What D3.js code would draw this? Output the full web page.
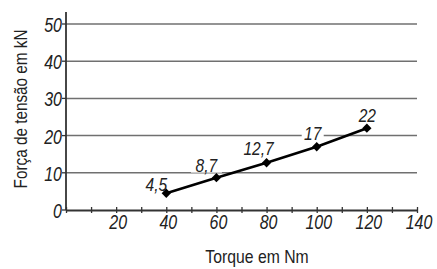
<!DOCTYPE html>
<html>
<head>
<meta charset="utf-8">
<script src="https://cdn.jsdelivr.net/npm/d3@7"></script>
<style>
  body { margin: 0; background: #fff; }
  text { font-family: "Liberation Sans", Arial, sans-serif; fill: #222; }
</style>
</head>
<body>
<div class="chart"></div>
<script>
// data
var torque = [40, 60, 80, 100, 120];
var forca = [4.5, 8.7, 12.7, 17, 22];
var labels = ["4,5", "8,7", "12,7", "17", "22"];
var xTicks = [20, 40, 60, 80, 100, 120, 140];
var yTicks = [0, 10, 20, 30, 40, 50];

var W = 437, H = 269;
var narrow = 0.82; // the original font is a condensed sans

var svg = d3.select(".chart").append("svg")
    .attr("width", W)
    .attr("height", H);

// set the ranges
var x = d3.scaleLinear().domain([0, 140]).range([66, 417]);
var y = d3.scaleLinear().domain([0, 50]).range([210, 24]);

// condensed text helper
function ntext(sel, tx, ty) {
    return sel.attr("transform", function (d, i) {
        return "translate(" + tx(d, i) + "," + ty(d, i) + ") scale(" + narrow + ",1)";
    });
}

// grid lines
svg.append("g").selectAll("line")
    .data(yTicks.filter(function (d) { return d > 0; }))
    .enter().append("line")
    .attr("x1", x(0)).attr("x2", x(140))
    .attr("y1", function (d) { return y(d); })
    .attr("y2", function (d) { return y(d); })
    .attr("stroke", "#707070").attr("stroke-width", 1.5);

// x axis with crossing ticks
var xAxis = svg.append("g")
    .attr("transform", "translate(0," + y(0) + ")")
    .call(d3.axisBottom(x).tickValues(d3.range(0, 141, 10)).tickSize(0).tickFormat(""));
xAxis.select(".domain").attr("stroke", "#333").attr("stroke-width", 1.8);
xAxis.selectAll(".tick").append("line")
    .attr("y1", -3).attr("y2", 3)
    .attr("stroke", "#333").attr("stroke-width", 1.3);
xAxis.selectAll(".tick text").remove();

ntext(svg.append("g").selectAll("text")
    .data(xTicks)
    .enter().append("text"),
    function (d) { return x(d) + 2; }, function () { return y(0) + 19; })
    .attr("text-anchor", "middle")
    .attr("font-size", 19.5)
    .attr("font-style", "italic")
    .text(function (d) { return d; });

// y axis
svg.append("line")
    .attr("x1", x(0)).attr("x2", x(0))
    .attr("y1", y(0)).attr("y2", 12)
    .attr("stroke", "#333").attr("stroke-width", 1.8);
svg.append("g").selectAll("line")
    .data(yTicks)
    .enter().append("line")
    .attr("x1", x(0) - 4).attr("x2", x(0))
    .attr("y1", function (d) { return y(d); })
    .attr("y2", function (d) { return y(d); })
    .attr("stroke", "#333").attr("stroke-width", 1.3);
ntext(svg.append("g").selectAll("text")
    .data(yTicks)
    .enter().append("text"),
    function () { return x(0) - 4; }, function (d) { return y(d) + 8; })
    .attr("text-anchor", "end")
    .attr("font-size", 19.5)
    .attr("font-style", "italic")
    .text(function (d) { return d; });

// value labels, drawn before the line; the white patch hides the grid behind them
var offs = [[-10, -2], [-10, -6], [-8, -8], [-4, -7], [0.5, -6]];
var lab = svg.append("g").selectAll("g")
    .data(forca)
    .enter().append("g")
    .attr("transform", function (d, i) {
        return "translate(" + (x(torque[i]) + offs[i][0]) + "," + (y(d) + offs[i][1]) + ")";
    });
lab.append("rect")
    .attr("x", function (d, i) { return -labels[i].length * 4.5 - 2; })
    .attr("y", -14)
    .attr("width", function (d, i) { return labels[i].length * 9 + 4; })
    .attr("height", 15)
    .attr("fill", "#fff");
lab.append("text")
    .attr("text-anchor", "middle")
    .attr("transform", "scale(" + narrow + ",1)")
    .attr("font-size", 19)
    .attr("font-style", "italic")
    .text(function (d, i) { return labels[i]; });

// the line
var line = d3.line()
    .x(function (d, i) { return x(torque[i]); })
    .y(function (d) { return y(d); });

svg.append("path")
    .datum(forca)
    .attr("d", line)
    .attr("fill", "none")
    .attr("stroke", "#000")
    .attr("stroke-width", 2.6);

// diamond markers
svg.append("g").selectAll("path")
    .data(forca)
    .enter().append("path")
    .attr("d", d3.symbol().type(d3.symbolDiamond2).size(55))
    .attr("transform", function (d, i) { return "translate(" + x(torque[i]) + "," + y(d) + ")"; })
    .attr("fill", "#000");

// axis titles
svg.append("text")
    .attr("transform", "translate(257,262.5) scale(0.875,1)")
    .attr("text-anchor", "middle")
    .attr("font-size", 18)
    .text("Torque em Nm");

svg.append("text")
    .attr("transform", "translate(27,109) rotate(-90) scale(0.85,1)")
    .attr("text-anchor", "middle")
    .attr("font-size", 18)
    .text("Força de tensão em kN");
</script>
</body>
</html>
